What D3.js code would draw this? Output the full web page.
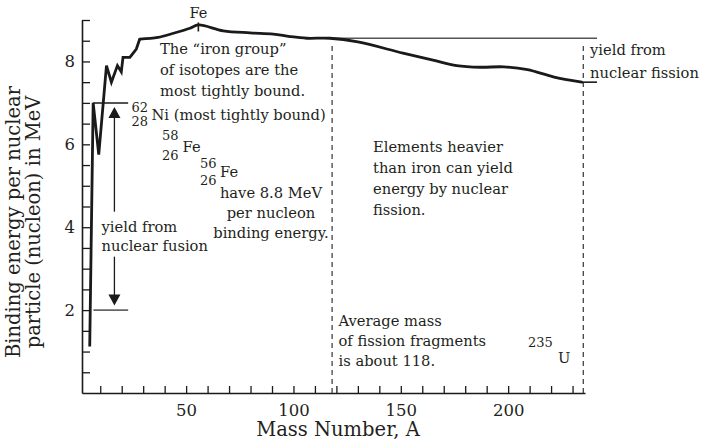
<!DOCTYPE html>
<html>
<head>
<meta charset="utf-8">
<script src="https://cdn.jsdelivr.net/npm/d3@7"></script>
<style>
  html, body { margin: 0; padding: 0; background: #fff; }
  svg { display: block; }
  text { font-family: "DejaVu Serif", "Liberation Serif", serif; fill: #231f20; }
</style>
</head>
<body>
<svg id="chart" width="701" height="443"></svg>
<script>
// ---- data ----
const massNumber = [5.1, 6.7, 9.3, 12.9, 15.2, 18.0, 19.8, 20.6, 23.8, 26.8, 28.4,
  36.9, 44.1, 51.8, 55.7, 67.3, 79.8, 90.6, 98.4, 106.2, 117, 130, 151, 165, 176, 187, 198, 209, 221, 234.3];
const bindingEnergy = [1.12, 7.0, 5.75, 7.9, 7.5, 7.9, 7.75, 8.1, 8.1, 8.3, 8.54,
  8.58, 8.68, 8.8, 8.88, 8.74, 8.69, 8.66, 8.6, 8.56, 8.56, 8.47, 8.2, 8.03, 7.9, 7.86, 7.87, 7.8, 7.63, 7.5];
const jaggedCount = 11;           // light nuclei drawn as straight segments
const xTickValues = d3.range(10, 231, 10);
const xTickLabels = [50, 100, 150, 200];
const yTickValues = d3.range(0.5, 9.01, 0.5);
const yTickLabels = [2, 4, 6, 8];
const fusionTop = 7.0, fusionBottom = 2.0, fusionA = [6.7, 23];
const fissionTop = 8.56, fissionBottom = 7.5;
const avgFragmentA = 118, uraniumA = 235;
const ironA = 55.7, ironBE = 8.88;

// ---- scales ----
const svg = d3.select("#chart");
const x = d3.scaleLinear().domain([1.5, 235.8]).range([82, 585]);
const y = d3.scaleLinear().domain([0, 9]).range([393, 20]);
const ink = "#1a1a1a";
const FONT = "DejaVu Serif";

// ---- axes ----
const yAxis = d3.axisLeft(y).tickValues(yTickValues).tickSizeInner(-8).tickSizeOuter(0).tickPadding(7)
  .tickFormat(d => yTickLabels.includes(d) ? d : "");
const gy = svg.append("g").attr("transform", `translate(${x.range()[0]},0)`).call(yAxis);
const xAxis = d3.axisBottom(x).tickValues(xTickValues).tickSizeInner(-7).tickSizeOuter(0).tickPadding(11)
  .tickFormat(d => xTickLabels.includes(d) ? d : "");
const gx = svg.append("g").attr("transform", `translate(0,${y(0)})`).call(xAxis);
[gx, gy].forEach(g => {
  g.select(".domain").attr("stroke", ink).attr("stroke-width", 1.6);
  g.selectAll(".tick line").attr("stroke", ink).attr("stroke-width", 1.3);
  g.selectAll(".tick text").attr("font-family", FONT).attr("font-size", 16.5).attr("fill", "#231f20");
});

// ---- reference lines ----
const thin = (x1, x2, y1, y2, col, w, dash) => svg.append("line")
  .attr("x1", x1).attr("x2", x2).attr("y1", y1).attr("y2", y2)
  .attr("stroke", col).attr("stroke-width", w).attr("stroke-dasharray", dash || null);

// dashed verticals
thin(x(avgFragmentA), x(avgFragmentA), y(0), y(fissionTop) + 4, "#333", 1.2, "5,4");
thin(x(uraniumA), x(uraniumA), y(0), y(fissionTop) + 4, "#333", 1.2, "5,4");
// fission yield lines
thin(x(108), x(241.4), y(fissionTop), y(fissionTop), "#555", 1.4);
thin(x(234.3), x(241.4), y(fissionBottom), y(fissionBottom), ink, 1.6);
// fusion yield lines
thin(x(fusionA[0]), x(fusionA[1]), y(fusionTop), y(fusionTop), ink, 1.5);
thin(x(6.8), x(fusionA[1]), y(fusionBottom), y(fusionBottom), "#666", 1.6);

// ---- curve ----
const pts = massNumber.map((a, i) => [a, bindingEnergy[i]]);
const lineLin = d3.line().x(d => x(d[0])).y(d => y(d[1]));
const lineSmooth = d3.line().x(d => x(d[0])).y(d => y(d[1])).curve(d3.curveCatmullRom.alpha(0.5));
svg.append("path").attr("d", lineLin(pts.slice(0, jaggedCount)))
  .attr("fill", "none").attr("stroke", ink).attr("stroke-width", 2.8).attr("stroke-linejoin", "miter");
svg.append("path").attr("d", lineSmooth(pts.slice(jaggedCount - 1)))
  .attr("fill", "none").attr("stroke", ink).attr("stroke-width", 2.8).attr("stroke-linecap", "round");
// Fe tick
thin(x(ironA), x(ironA), y(ironBE) - 2.5, y(ironBE) + 6.5, ink, 1.6);

// ---- fusion arrow ----
const ax = x(16.6);
thin(ax, ax, y(4.375), y(6.9) + 9, ink, 1.3);
thin(ax, ax, y(3.29), y(2.11) - 9, ink, 1.3);
svg.append("path").attr("d", `M${ax},${y(6.9)} l-6,11 h12 z`).attr("fill", ink);
svg.append("path").attr("d", `M${ax},${y(2.11)} l-6,-11 h12 z`).attr("fill", ink);

// ---- text ----
const txt = (s, tx, ty, size, anchor) => svg.append("text").attr("x", tx).attr("y", ty)
  .attr("font-family", FONT).attr("font-size", size).attr("text-anchor", anchor || "start").text(s);

const A = 14.7, S = 13;
txt("Fe", x(ironA), 18, 14.5, "middle");
txt("The \u201ciron group\u201d", 160, 54, A);
txt("of isotopes are the", 160, 75, A);
txt("most tightly bound.", 160, 95.5, A);
txt("62", 131.5, 111.5, S);
txt("28", 131.5, 125.5, S);
txt("Ni (most tightly bound)", 151.5, 119.5, A);
txt("58", 162, 140, S);
txt("26", 162, 160, S);
txt("Fe", 182.5, 151.5, A);
txt("56", 200, 168, S);
txt("26", 200, 185, S);
txt("Fe", 220, 176.5, A);
txt("have 8.8 MeV", 271, 198, A, "middle");
txt("per nucleon", 271, 218, A, "middle");
txt("binding energy.", 271, 238, A, "middle");
txt("yield from", 101.5, 231.5, A);
txt("nuclear fusion", 101.5, 251, A);
txt("yield from", 590, 55, A);
txt("nuclear fission", 590, 78, A);
txt("Elements heavier", 373, 152, A);
txt("than iron can yield", 373, 173, A);
txt("energy by nuclear", 373, 194, A);
txt("fission.", 373, 214.5, A);
txt("Average mass", 338.5, 325.5, A);
txt("of fission fragments", 338.5, 346, A);
txt("is about 118.", 338.5, 366, A);
txt("235", 528, 346.5, S);
txt("U", 558, 363, A);

// axis titles
txt("Mass Number, A", 338, 436, 19.5, "middle");
const yt = svg.append("text").attr("transform", "translate(0,222) rotate(-90)")
  .attr("font-family", FONT).attr("font-size", 19.5).attr("text-anchor", "middle");
yt.append("tspan").attr("x", 0).attr("y", 20).text("Binding energy per nuclear");
yt.append("tspan").attr("x", 0).attr("y", 40).text("particle (nucleon) in MeV");
</script>
</body>
</html>
